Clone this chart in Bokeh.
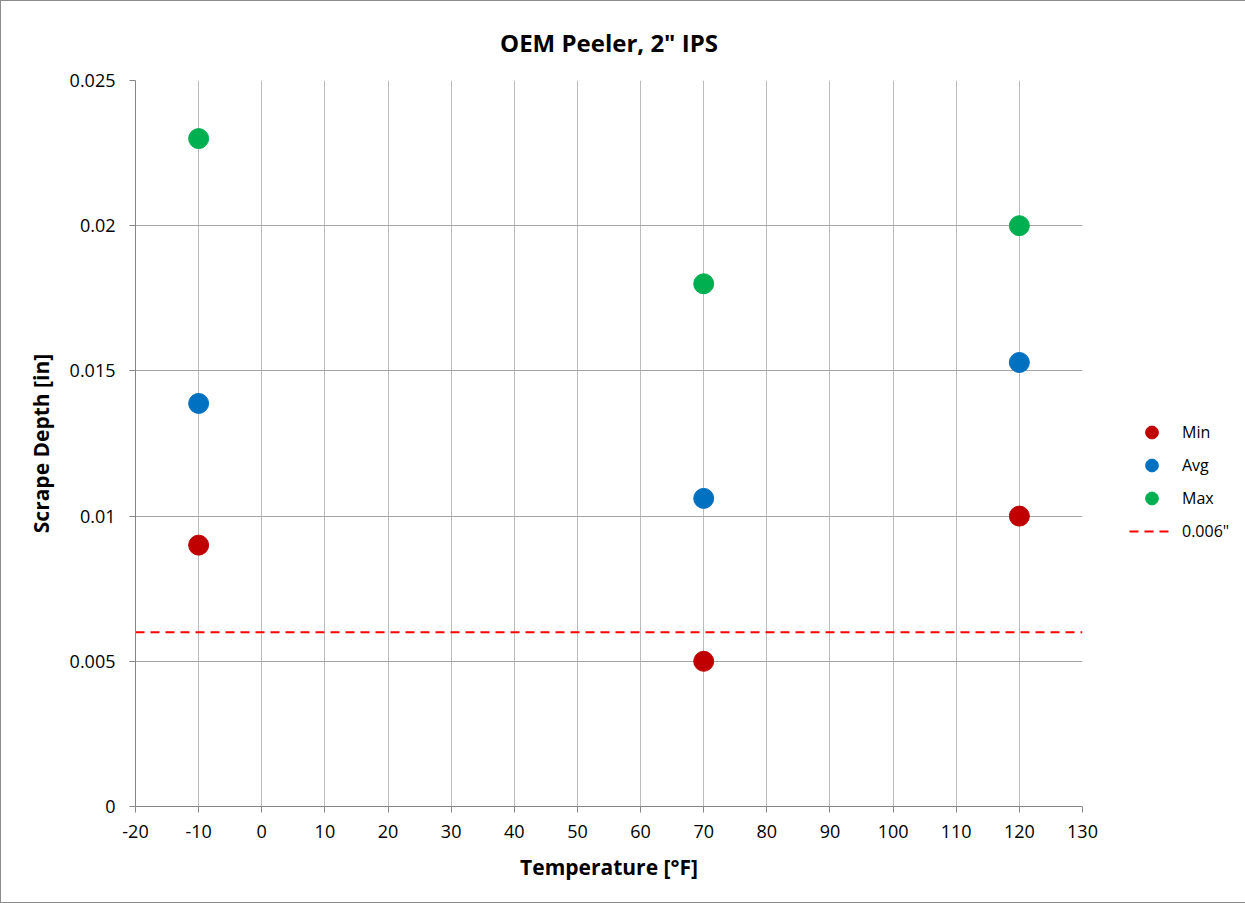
from bokeh.plotting import figure
from bokeh.models import Legend, LegendItem, Range1d, FixedTicker
from bokeh.embed import file_html
from bokeh.resources import INLINE

# ---- data ----
temps = [-10, 70, 120]
min_vals = [0.009, 0.005, 0.010]
avg_vals = [0.01388, 0.01061, 0.01529]
max_vals = [0.023, 0.018, 0.020]
threshold = 0.006
series_names = ["Min", "Avg", "Max"]
threshold_label = '0.006"'
x_ticks = list(range(-20, 131, 10))
x_tick_labels = ["-20", "-10", "0", "10", "20", "30", "40", "50", "60", "70",
                 "80", "90", "100", "110", "120", "130"]
y_ticks = [0, 0.005, 0.01, 0.015, 0.02, 0.025]
y_tick_labels = ["0", "0.005", "0.01", "0.015", "0.02", "0.025"]
title_text = 'OEM Peeler, 2" IPS'
x_title = "Temperature [°F]"
y_title = "Scrape Depth [in]"

colors = ["#c00000", "#0070c0", "#00b050"]
FONT = "Open Sans"

p = figure(frame_width=947, frame_height=726, output_backend="svg", toolbar_location=None,
           x_range=Range1d(x_ticks[0], x_ticks[-1]), y_range=Range1d(y_ticks[0], y_ticks[-1]),
           min_border_left=134, min_border_right=162, min_border_top=79, min_border_bottom=96)
p.styles = {"border": "1px solid #8c8c8c"}

p.title.text = title_text
p.title.align = "center"
p.title.offset = 18
p.title.standoff = 43
p.title.text_font = FONT
p.title.text_font_size = "24px"
p.title.text_font_style = "bold"
p.title.text_color = "#000000"

p.outline_line_color = None
p.background_fill_color = "white"

for ax in (p.xaxis[0], p.yaxis[0]):
    ax.axis_line_color = "#868686"
    ax.major_tick_line_color = "#868686"
    ax.major_tick_in = 0
    ax.major_tick_out = 6
    ax.minor_tick_line_color = None
    ax.major_label_text_font = FONT
    ax.major_label_text_font_size = "18px"
    ax.major_label_text_color = "#000000"
    ax.axis_label_text_font = FONT
    ax.axis_label_text_font_size = "21px"
    ax.axis_label_text_font_style = "bold"
    ax.axis_label_text_color = "#000000"

p.xaxis.ticker = FixedTicker(ticks=x_ticks)
p.yaxis.ticker = FixedTicker(ticks=y_ticks)
p.xaxis.major_label_overrides = {t: l for t, l in zip(x_ticks, x_tick_labels)}
p.yaxis.major_label_overrides = {t: l for t, l in zip(y_ticks, y_tick_labels)}
p.xaxis.axis_label = x_title
p.yaxis.axis_label = y_title
p.xaxis.major_label_standoff = 12
p.yaxis.major_label_standoff = 14
p.xaxis.axis_label_standoff = 12
p.yaxis.axis_label_standoff = 12

p.xgrid.grid_line_color = "#bcbcbc"
p.ygrid.grid_line_color = "#a6a6a6"
p.xgrid.ticker = FixedTicker(ticks=x_ticks)
p.ygrid.ticker = FixedTicker(ticks=y_ticks)

items = []
thr_line = p.line([x_ticks[0], x_ticks[-1]], [threshold, threshold], line_color="#ff0000",
                  line_width=2, line_dash="9 6")
for name, vals, c in zip(series_names, [min_vals, avg_vals, max_vals], colors):
    r = p.scatter(temps, vals, size=20, color=c, line_color=c)
    items.append(LegendItem(label=name, renderers=[r]))
items.append(LegendItem(label=threshold_label, renderers=[thr_line]))

legend = Legend(items=items, location=(47, 259), orientation="vertical",
                glyph_width=45, glyph_height=32, spacing=1, padding=0, margin=0,
                label_standoff=8, label_text_font=FONT, label_text_font_size="16px",
                label_text_color="#000000", border_line_color=None,
                background_fill_alpha=0)
p.add_layout(legend, "right")

open("out.html", "w").write(file_html(p, INLINE))
